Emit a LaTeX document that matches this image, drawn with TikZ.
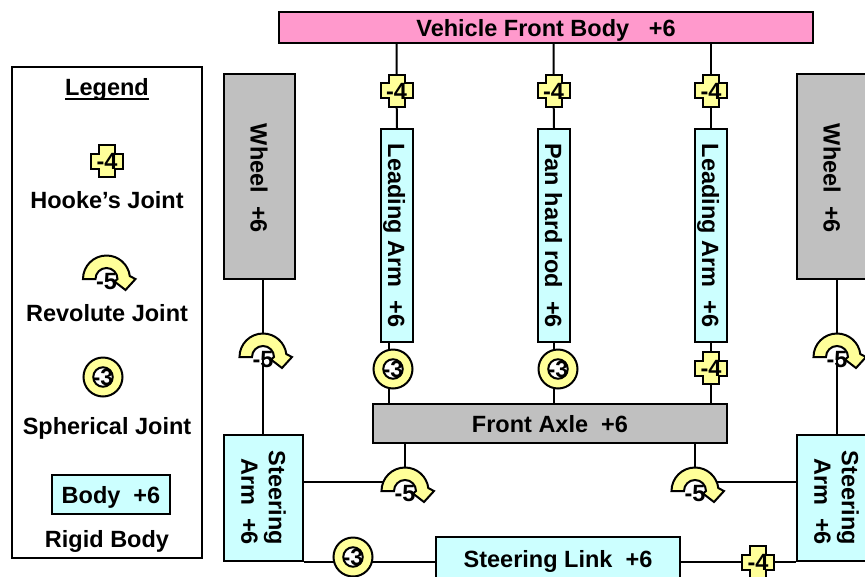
\documentclass[tikz,border=0pt]{standalone}
\usepackage{fontspec}
\setmainfont{Liberation Sans}
\usetikzlibrary{backgrounds}
\definecolor{cbody}{HTML}{CCFFFF}
\definecolor{cpink}{HTML}{FF99CC}
\definecolor{cgrey}{HTML}{C0C0C0}
\definecolor{cjoint}{HTML}{FFFF99}
\tikzset{
  ln/.style={line width=2pt,draw=black},
  txt/.style={font=\fontsize{23.5}{27.5}\selectfont\bfseries,inner sep=0pt,align=center,text=black},
  fixh/.style={text height=17pt,text depth=0pt},
  fixr/.style={text height=18pt,text depth=0pt},
  box/.style={txt,ln,rectangle,minimum width=#1},
  boxh/.style={minimum height=#1},
  side/.style={rotate=-90}
}
\newcommand\ulegend[1]{\setbox0\hbox{#1}\rlap{\rule[-4.5pt]{\wd0}{2pt}}\box0}
% \hookej{name}{x}{y}
\newcommand\hookej[3]{%
  \begin{scope}[shift={(#2,#3)},x=1pt,y=1pt]
    \draw[ln,fill=cjoint,line join=miter] (-8,16)--(8,16)--(8,7.5)--(16,7.5)--(16,-7.5)--(8,-7.5)--(8,-16)--(-8,-16)--(-8,-7.5)--(-16,-7.5)--(-16,7.5)--(-8,7.5)--cycle;
  \end{scope}
  \node[txt,fixh,minimum width=33pt,minimum height=33pt] (#1) at (#2,#3) {-4};
}
% \sphj{name}{x}{y}
\newcommand\sphj[3]{%
  \node[ln,circle,fill=cjoint,minimum size=39pt,inner sep=0pt] (#1) at (#2,#3) {};
  \node[circle,draw=black,line width=2pt,fill=white,minimum size=19.5pt,inner sep=0pt] (#1i) at (#2,#3) {};
  \node[txt,fixh] (#1t) at (#2,#3) {-3};
}
% \revj{name}{x}{y}: x,y = centre of the arc, on its base line
\newcommand\revj[3]{%
  \begin{scope}[shift={(#2,#3)},x=1pt,y=1pt]
    \fill[white] (-11,0) arc[start angle=180,end angle=0,radius=11] -- cycle;
    \draw[ln,fill=cjoint,line join=miter] (-23.5,0) arc[start angle=180,end angle=7,radius=23.5] -- (29,0) -- (19,-11) -- (8,-2.5) -- (11,0) arc[start angle=0,end angle=180,radius=11] -- cycle;
  \end{scope}
  \node[minimum size=47pt,inner sep=0pt] (#1) at (#2,#3) {};
  \node[txt,fixh] (#1t) at (#2,{#3+2}) {-5};
}
\begin{document}
\begin{tikzpicture}[x=1pt,y=-1pt]
\useasboundingbox (0,0) rectangle (865,576);
\clip (0,0) rectangle (865,576);
% bodies
\node[box=534pt,boxh=31pt,fill=cpink,fixh] (vfb) at (546,27.5) {Vehicle Front Body~~~+6};
\node[box=190pt,boxh=491pt] (legend) at (107,312.5) {};
\node[box=205pt,boxh=71pt,fill=cgrey,side,fixr] (wheelL) at (259.5,176.5) {\kern4pt Wheel~~+6};
\node[box=205pt,boxh=71pt,fill=cgrey,side,fixr] (wheelR) at (832.5,176.5) {\kern4pt Wheel~~+6};
\node[box=213pt,boxh=32pt,fill=cbody,side,fixr] (arm1) at (397,235.5) {Leading Arm~~+6};
\node[box=213pt,boxh=32pt,fill=cbody,side,fixr] (pan) at (554,235.5) {Pan hard rod~~+6};
\node[box=213pt,boxh=32pt,fill=cbody,side,fixr] (arm2) at (711,235.5) {Leading Arm~~+6};
\node[box=354pt,boxh=39pt,fill=cgrey,fixh] (axle) at (550,423.5) {Front Axle~~+6};
\node[box=126pt,boxh=79pt,fill=cbody,side,align=right] (steerL) at (263.5,498) {Steering\\Arm~~+6};
\node[box=126pt,boxh=79pt,fill=cbody,side,align=right] (steerR) at (836.5,498) {Steering\\Arm~~+6};
\node[box=244pt,boxh=44pt,fill=cbody,fixh] (link) at (558,559) {Steering Link~~+6};
% joints
\hookej{ha}{396.5}{90.5}
\hookej{hb}{553.5}{90.5}
\hookej{hc}{711}{90.5}
\hookej{hd}{711}{368}
\hookej{he}{758}{562}
\sphj{sa}{393}{369}
\sphj{sb}{558}{369}
\sphj{sc}{353}{557}
\revj{ra}{263}{357}
\revj{rb}{837}{357}
\revj{rc}{405}{491}
\revj{rd}{695}{491}
% legend
\node[txt,fixh] (ltitle) at (107,86.5) {\ulegend{Legend}};
\hookej{lh}{107}{161}
\node[txt,fixh] (lhl) at (107,199.5) {Hooke’s Joint};
\revj{lr}{106.5}{279}
\node[txt,fixh] (lrl) at (107,312.5) {Revolute Joint};
\sphj{ls}{103}{377}
\node[txt,fixh] (lsl) at (107,425.5) {Spherical Joint};
\node[box=118pt,boxh=39pt,fill=cbody,fixh] (lb) at (111,494.5) {Body~~+6};
\node[txt,fixh] (lbl) at (107,539) {Rigid Body};
% connectors
\begin{pgfonlayer}{background}
\draw[ln] (vfb.south -| ha) -- (ha) -- (arm1.west);
\draw[ln] (vfb.south -| hb) -- (hb) -- (pan.west);
\draw[ln] (vfb.south -| hc) -- (hc) -- (arm2.west);
\draw[ln] ([xshift=-4pt]sa.center |- arm1.east) -- ([xshift=-4pt]sa.center |- axle.north);
\draw[ln] ([xshift=-4pt]sb.center |- pan.east) -- ([xshift=-4pt]sb.center |- axle.north);
\draw[ln] (arm2.east) -- (hd) -- (hd |- axle.north);
\draw[ln] (ra |- wheelL.east) -- (ra |- steerL.west);
\draw[ln] (rb |- wheelR.east) -- (rb |- steerR.west);
\draw[ln] (rc |- axle.south) -- (rc);
\draw[ln] (rd |- axle.south) -- (rd);
\draw[ln] (steerL.north |- 0,482) -- (rc |- 0,482);
\draw[ln] (steerR.south |- 0,482) -- (rd |- 0,482);
\draw[ln] (steerL.north east) -- (sc |- steerL.north east) -- (link.west |- steerL.north east);
\draw[ln] (link.east |- steerR.south east) -- (he |- steerR.south east) -- (steerR.south east);
\end{pgfonlayer}
\end{tikzpicture}
\end{document}
